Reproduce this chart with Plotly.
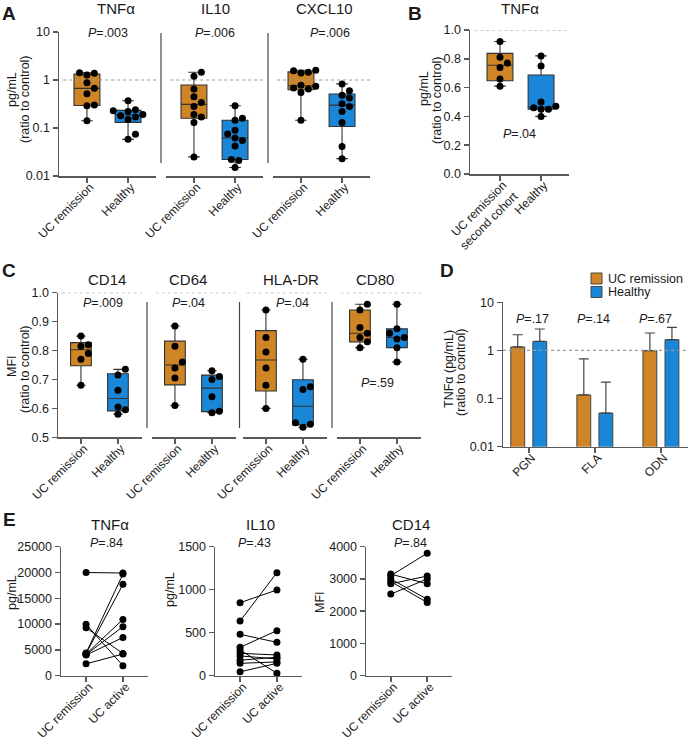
import numpy as np
import plotly.graph_objects as go

# ======================= DATA =======================
# Panel A: cytokines, ratio to control (log scale)
A_groups = ["UC remission", "Healthy"]
A_markers = ["TNFα", "IL10", "CXCL10"]
A_pvalues = [".003", ".006", ".006"]
A_tnf_uc = [1.42, 1.38, 1.27, 0.88, 0.67, 0.52, 0.30, 0.29, 0.142]
A_tnf_hc = [0.37, 0.24, 0.23, 0.22, 0.19, 0.18, 0.17, 0.15, 0.074, 0.058]
A_il10_uc = [1.45, 1.20, 0.65, 0.45, 0.34, 0.28, 0.19, 0.17, 0.13, 0.025]
A_il10_hc = [0.29, 0.16, 0.145, 0.09, 0.075, 0.062, 0.055, 0.042, 0.022, 0.021, 0.015]
A_cxcl10_uc = [1.60, 1.55, 1.45, 1.40, 0.78, 0.74, 0.68, 0.65, 0.55, 0.145]
A_cxcl10_hc = [0.83, 0.60, 0.48, 0.42, 0.32, 0.28, 0.22, 0.13, 0.041, 0.023]

# Panel B: TNFα second cohort (linear)
B_groups = ["UC remission<br>second cohort", "Healthy"]
B_marker = "TNFα"
B_pvalue = ".04"
B_uc = [0.92, 0.81, 0.77, 0.74, 0.66, 0.61]
B_hc = [0.82, 0.75, 0.50, 0.47, 0.46, 0.45, 0.45, 0.40]

# Panel C: surface markers MFI ratio
C_groups = ["UC remission", "Healthy"]
C_markers = ["CD14", "CD64", "HLA-DR", "CD80"]
C_pvalues = [".009", ".04", ".04", ".59"]
C_cd14_uc = [0.85, 0.82, 0.815, 0.79, 0.77, 0.68]
C_cd14_hc = [0.735, 0.715, 0.663, 0.605, 0.595, 0.58]
C_cd64_uc = [0.885, 0.815, 0.76, 0.74, 0.705, 0.61]
C_cd64_hc = [0.73, 0.71, 0.70, 0.64, 0.59, 0.585]
C_hla_uc = [0.94, 0.845, 0.795, 0.74, 0.68, 0.60]
C_hla_hc = [0.77, 0.675, 0.665, 0.55, 0.545, 0.535]
C_cd80_uc = [0.96, 0.94, 0.88, 0.86, 0.845, 0.83, 0.81]
C_cd80_hc = [0.96, 0.875, 0.86, 0.845, 0.84, 0.81, 0.76]

# Panel D: TNFα after TLR stimulation (mean + upper error)
D_stimuli = ["PGN", "FLA", "ODN"]
D_pvalues = [".17", ".14", ".67"]
D_series = ["UC remission", "Healthy"]
D_uc_mean = [1.18, 0.119, 0.99]
D_uc_upper = [2.12, 0.67, 2.30]
D_hc_mean = [1.54, 0.050, 1.67]
D_hc_upper = [2.79, 0.22, 3.01]

# Panel E: paired remission vs active
E_groups = ["UC remission", "UC active"]
E_markers = ["TNFα", "IL10", "CD14"]
E_pvalues = [".84", ".43", ".84"]
E_ytitles = ["pg/mL", "pg/mL", "MFI"]
E_tnf_rem = [20000, 9960, 9300, 2300, 4400, 4300, 4200, 4100, 4000]
E_tnf_act = [19900, 1940, 4300, 4200, 19700, 17700, 10900, 9500, 7400]
E_il10_rem = [849, 636, 481, 330, 300, 260, 230, 180, 144, 45]
E_il10_act = [997, 1198, 388, 524, 28, 241, 195, 215, 160, 144]
E_cd14_rem = [3100, 2530, 3150, 3000, 2920, 2850]
E_cd14_act = [3800, 3000, 2850, 2370, 2270, 3090]

# ======================= STYLE / GEOMETRY =======================
W, H = 689, 740
FONT = "Liberation Sans, Arial, Helvetica, sans-serif"
ORANGE = "#CF8526"
BLUE = "#1A86D8"
AXC = "#5a5a5a"
TXT = "#1a1a1a"
DOT = 7.0
TICK_SIZE = 12.5
XTICK_SIZE = 12
XLAB_STANDOFF = -7
XLAB_SHIFT = 3

fig = go.Figure()
layout = {}
shapes = []
annotations = []


def text(xp, yp, s, size=12.5, angle=0, bold=False, xanchor="center"):
    if bold:
        s = "<b>" + s + "</b>"
    annotations.append(dict(x=xp / W, y=1 - yp / H, xref="paper", yref="paper", text=s,
                            showarrow=False, textangle=angle, xanchor=xanchor, yanchor="middle",
                            font=dict(size=size, color=TXT, family=FONT)))


def axis_pair(i, xdom, ydom, xrange, yrange, xcats, ylog=False, show_y=True,
              ytickvals=None, yticktext=None, ydtick=None, ytickformat=None):
    sx = "" if i == 1 else str(i)
    layout["xaxis" + sx] = dict(
        domain=[xdom[0] / W, xdom[1] / W], range=xrange, anchor="y" + sx,
        showgrid=False, zeroline=False, showline=True, linecolor=AXC, linewidth=1.5,
        ticks="outside", ticklen=5, tickwidth=1.5, tickcolor=AXC,
        tickmode="array", tickvals=list(range(len(xcats))), ticktext=xcats,
        tickangle=-45, tickfont=dict(size=XTICK_SIZE, color=TXT, family=FONT),
        ticklabelstandoff=XLAB_STANDOFF, ticklabelshift=XLAB_SHIFT,
        automargin=False, fixedrange=True)
    ya = dict(domain=[1 - ydom[1] / H, 1 - ydom[0] / H], range=yrange, anchor="x" + sx,
              showgrid=False, zeroline=False, automargin=False, fixedrange=True,
              type="log" if ylog else "linear")
    if show_y:
        ya.update(showline=True, linecolor=AXC, linewidth=1.5, ticks="outside", ticklen=5,
                  tickwidth=1.5, tickcolor=AXC, tickfont=dict(size=TICK_SIZE, color=TXT, family=FONT))
        if ytickvals is not None:
            ya.update(tickmode="array", tickvals=ytickvals, ticktext=yticktext)
        else:
            ya.update(tick0=0, dtick=ydtick, tickformat=ytickformat)
    else:
        ya.update(visible=False)
    layout["yaxis" + sx] = ya
    return "x" + sx, "y" + sx


def swarm(ypx, d):
    n = len(ypx)
    order = np.argsort(ypx)
    placed = []
    offs = np.zeros(n)
    cands = [0.0]
    for m in range(1, 14):
        cands += [m * 0.5 * d, -m * 0.5 * d]
    for i in order:
        c = 0.0
        for c in cands:
            if all((c - px) ** 2 + (ypx[i] - py) ** 2 >= (0.97 * d) ** 2 for px, py in placed):
                break
        placed.append((c, ypx[i]))
        offs[i] = c
    return offs


def box_with_points(xr, yr, vals, xpos, color, box_w, ppx, ppy, ylog):
    v = np.asarray(vals, float)
    q1, med, q3 = np.percentile(v, [25, 50, 75], method="weibull")
    fig.add_trace(go.Box(x=[xpos], q1=[q1], median=[med], q3=[q3],
                         lowerfence=[v.min()], upperfence=[v.max()], width=box_w,
                         fillcolor=color, line=dict(color="#333333", width=1.1),
                         whiskerwidth=0.45, boxpoints=False, xaxis=xr, yaxis=yr,
                         showlegend=False, hoverinfo="skip"))
    ypx = (np.log10(v) if ylog else v) * ppy
    offs = swarm(ypx, DOT + 0.4)
    fig.add_trace(go.Scatter(x=xpos + offs / ppx, y=v, mode="markers",
                             marker=dict(color="black", size=DOT), xaxis=xr, yaxis=yr,
                             showlegend=False, hoverinfo="skip", cliponaxis=False))


def ref_line(xr, yr, xrange, yval):
    fig.add_trace(go.Scatter(x=[xrange[0] + 0.1, xrange[1]], y=[yval, yval], mode="lines",
                             line=dict(color="#9a9a9a", width=1.2, dash="3px,3px"),
                             xaxis=xr, yaxis=yr, showlegend=False, hoverinfo="skip"))


def separator(xp, ytop, ybot):
    shapes.append(dict(type="line", xref="paper", yref="paper", x0=xp / W, x1=xp / W,
                       y0=1 - ytop / H, y1=1 - ybot / H, line=dict(color="#444", width=1.2)))


ax_i = 1

# ---------------- Panel A ----------------
A_uc = [A_tnf_uc, A_il10_uc, A_cxcl10_uc]
A_hc = [A_tnf_hc, A_il10_hc, A_cxcl10_hc]
A_xdoms = [(59, 156), (166, 263), (273, 370)]
A_ydom = (32, 176)
A_xr = [-0.68, 1.68]
A_yr = [-2, 1]
A_title_x = [116, 215, 324]
A_p_x = [108, 215, 330]
for k in range(3):
    xr, yr = axis_pair(ax_i, A_xdoms[k], A_ydom, A_xr, A_yr, A_groups, ylog=True,
                       show_y=(k == 0), ytickvals=[0.01, 0.1, 1, 10],
                       yticktext=["0.01", "0.1", "1", "10"])
    ax_i += 1
    ppx = (A_xdoms[k][1] - A_xdoms[k][0]) / (A_xr[1] - A_xr[0])
    ppy = (A_ydom[1] - A_ydom[0]) / (A_yr[1] - A_yr[0])
    ref_line(xr, yr, A_xr, 1)
    box_with_points(xr, yr, A_uc[k], 0, ORANGE, 0.63, ppx, ppy, True)
    box_with_points(xr, yr, A_hc[k], 1, BLUE, 0.63, ppx, ppy, True)
    text(A_title_x[k], 9, A_markers[k], 15)
    text(A_p_x[k], 33, "<i>P</i>=" + A_pvalues[k], 12.5)
    if k > 0:
        separator((A_xdoms[k - 1][1] + A_xdoms[k][0]) / 2, 33, 163)
text(9, 13, "A", 19, bold=True)
text(12, 90, "pg/mL", 12.5, angle=-90)
text(25, 99, "(ratio to control)", 12.5, angle=-90)

# ---------------- Panel B ----------------
B_xdom = (470, 569)
B_ydom = (30, 174)
B_xr = [-0.73, 1.68]
B_yr = [0, 1.0]
xr, yr = axis_pair(ax_i, B_xdom, B_ydom, B_xr, B_yr, B_groups, ydtick=0.2, ytickformat=".1f")
ax_i += 1
ppx = (B_xdom[1] - B_xdom[0]) / (B_xr[1] - B_xr[0])
ppy = (B_ydom[1] - B_ydom[0]) / (B_yr[1] - B_yr[0])
ref_line(xr, yr, B_xr, 1.0)
box_with_points(xr, yr, B_uc, 0, ORANGE, 0.63, ppx, ppy, False)
box_with_points(xr, yr, B_hc, 1, BLUE, 0.63, ppx, ppy, False)
text(520, 9, B_marker, 15)
text(519, 134, "<i>P</i>=" + B_pvalue, 12.5)
text(415, 13, "B", 19, bold=True)
text(424, 89, "pg/mL", 12.5, angle=-90)
text(437, 100, "(ratio to control)", 12.5, angle=-90)

# ---------------- Panel C ----------------
C_uc = [C_cd14_uc, C_cd64_uc, C_hla_uc, C_cd80_uc]
C_hc = [C_cd14_hc, C_cd64_hc, C_hla_hc, C_cd80_hc]
C_xdoms = [(58, 142), (152, 236), (243, 327), (337, 421)]
C_ydom = (292.7, 437.3)
C_xr = [-0.62, 1.65]
C_yr = [0.5, 1.0]
C_title_x = [107, 188, 291, 375]
C_p_pos = [(103, 303), (188, 303), (292, 303), (377, 383)]
for k in range(4):
    xr, yr = axis_pair(ax_i, C_xdoms[k], C_ydom, C_xr, C_yr, C_groups, show_y=(k == 0),
                       ydtick=0.1, ytickformat=".1f")
    ax_i += 1
    ppx = (C_xdoms[k][1] - C_xdoms[k][0]) / (C_xr[1] - C_xr[0])
    ppy = (C_ydom[1] - C_ydom[0]) / (C_yr[1] - C_yr[0])
    ref_line(xr, yr, C_xr, 1.0)
    box_with_points(xr, yr, C_uc[k], 0, ORANGE, 0.56, ppx, ppy, False)
    box_with_points(xr, yr, C_hc[k], 1, BLUE, 0.56, ppx, ppy, False)
    text(C_title_x[k], 279, C_markers[k], 15)
    text(C_p_pos[k][0], C_p_pos[k][1], "<i>P</i>=" + C_pvalues[k], 12.5)
    if k > 0:
        separator((C_xdoms[k - 1][1] + C_xdoms[k][0]) / 2, 302, 428)
text(9, 270, "C", 19, bold=True)
text(12, 366, "MFI", 12.5, angle=-90)
text(25, 369, "(ratio to control)", 12.5, angle=-90)

# ---------------- Panel D ----------------
D_xdom = (503, 688)
D_ydom = (302.3, 446.7)
D_xr = [-0.39, 2.41]
D_yr = [-2, 1]
xr, yr = axis_pair(ax_i, D_xdom, D_ydom, D_xr, D_yr, D_stimuli, ylog=True,
                   ytickvals=[0.01, 0.1, 1, 10], yticktext=["0.01", "0.1", "1", "10"])
ax_i += 1
ref_line(xr, yr, [D_xr[0] - 0.1, D_xr[1]], 1)
bar_w = 0.21
half_sep = 0.167
D_colors = [ORANGE, BLUE]
for name, mean, upper, color, sign in [(D_series[0], D_uc_mean, D_uc_upper, ORANGE, -1),
                                        (D_series[1], D_hc_mean, D_hc_upper, BLUE, 1)]:
    m = np.asarray(mean, float)
    u = np.asarray(upper, float)
    fig.add_trace(go.Bar(x=list(range(len(D_stimuli))), y=m, width=bar_w,
                         offset=sign * half_sep - bar_w / 2, name=name, showlegend=False,
                         marker=dict(color=color, line=dict(color="#444", width=1)),
                         error_y=dict(type="data", symmetric=False, array=u - m,
                                      arrayminus=np.zeros(len(m)), color="#444",
                                      thickness=1.2, width=5),
                         xaxis=xr, yaxis=yr, hoverinfo="skip"))
# legend (key squares + labels)
for j, (name, color) in enumerate(zip(D_series, D_colors)):
    ycen = 278.5 + j * 13.5
    shapes.append(dict(type="rect", xref="paper", yref="paper",
                       x0=591 / W, x1=602 / W, y0=1 - (ycen + 5.5) / H, y1=1 - (ycen - 5.5) / H,
                       fillcolor=color, line=dict(color="#444", width=1)))
    text(606, ycen, name, 12.5, xanchor="left")
for k, px in enumerate([532, 593, 655]):
    text(px, 319, "<i>P</i>=" + D_pvalues[k], 12.5)
text(447, 270, "D", 19, bold=True)
text(449, 369, "TNFα (pg/mL)", 12.5, angle=-90)
text(461, 372, "(ratio to control)", 12.5, angle=-90)

# ---------------- Panel E ----------------
E_rem = [E_tnf_rem, E_il10_rem, E_cd14_rem]
E_act = [E_tnf_act, E_il10_act, E_cd14_act]
E_xdoms = [(61, 148), (215, 302), (366, 452)]
E_ydom = (546.7, 675.7)
E_xr = [-0.68, 1.68]
E_yranges = [[0, 25000], [0, 1500], [0, 4000]]
E_dticks = [5000, 500, 1000]
E_title_x = [110, 260, 411]
E_p_x = [106, 254, 410]
E_ytitle_pos = [(12, 593), (170, 590), (320, 602)]
for k in range(3):
    xr, yr = axis_pair(ax_i, E_xdoms[k], E_ydom, E_xr, E_yranges[k], E_groups,
                       ydtick=E_dticks[k], ytickformat="d")
    ax_i += 1
    xs, ys = [], []
    for a, b in zip(E_rem[k], E_act[k]):
        xs += [0, 1, None]
        ys += [a, b, None]
    fig.add_trace(go.Scatter(x=xs, y=ys, mode="lines+markers",
                             line=dict(color="black", width=1),
                             marker=dict(color="black", size=DOT),
                             xaxis=xr, yaxis=yr, showlegend=False, hoverinfo="skip",
                             cliponaxis=False))
    text(E_title_x[k], 524, E_markers[k], 15)
    text(E_p_x[k], 543, "<i>P</i>=" + E_pvalues[k], 12.5)
    text(E_ytitle_pos[k][0], E_ytitle_pos[k][1], E_ytitles[k], 12.5, angle=-90)
text(9, 519, "E", 19, bold=True)

layout.update(
    width=W, height=H, margin=dict(l=0, r=0, t=0, b=0),
    paper_bgcolor="white", plot_bgcolor="white", template="none",
    font=dict(family=FONT, size=12.5, color=TXT),
    showlegend=False,
    shapes=shapes, annotations=annotations, hovermode=False,
)
fig.update_layout(**layout)
fig.write_html("out.html", config={"displayModeBar": False, "staticPlot": True},
               post_script="document.body.style.margin='0px';document.body.style.overflow='hidden';")
